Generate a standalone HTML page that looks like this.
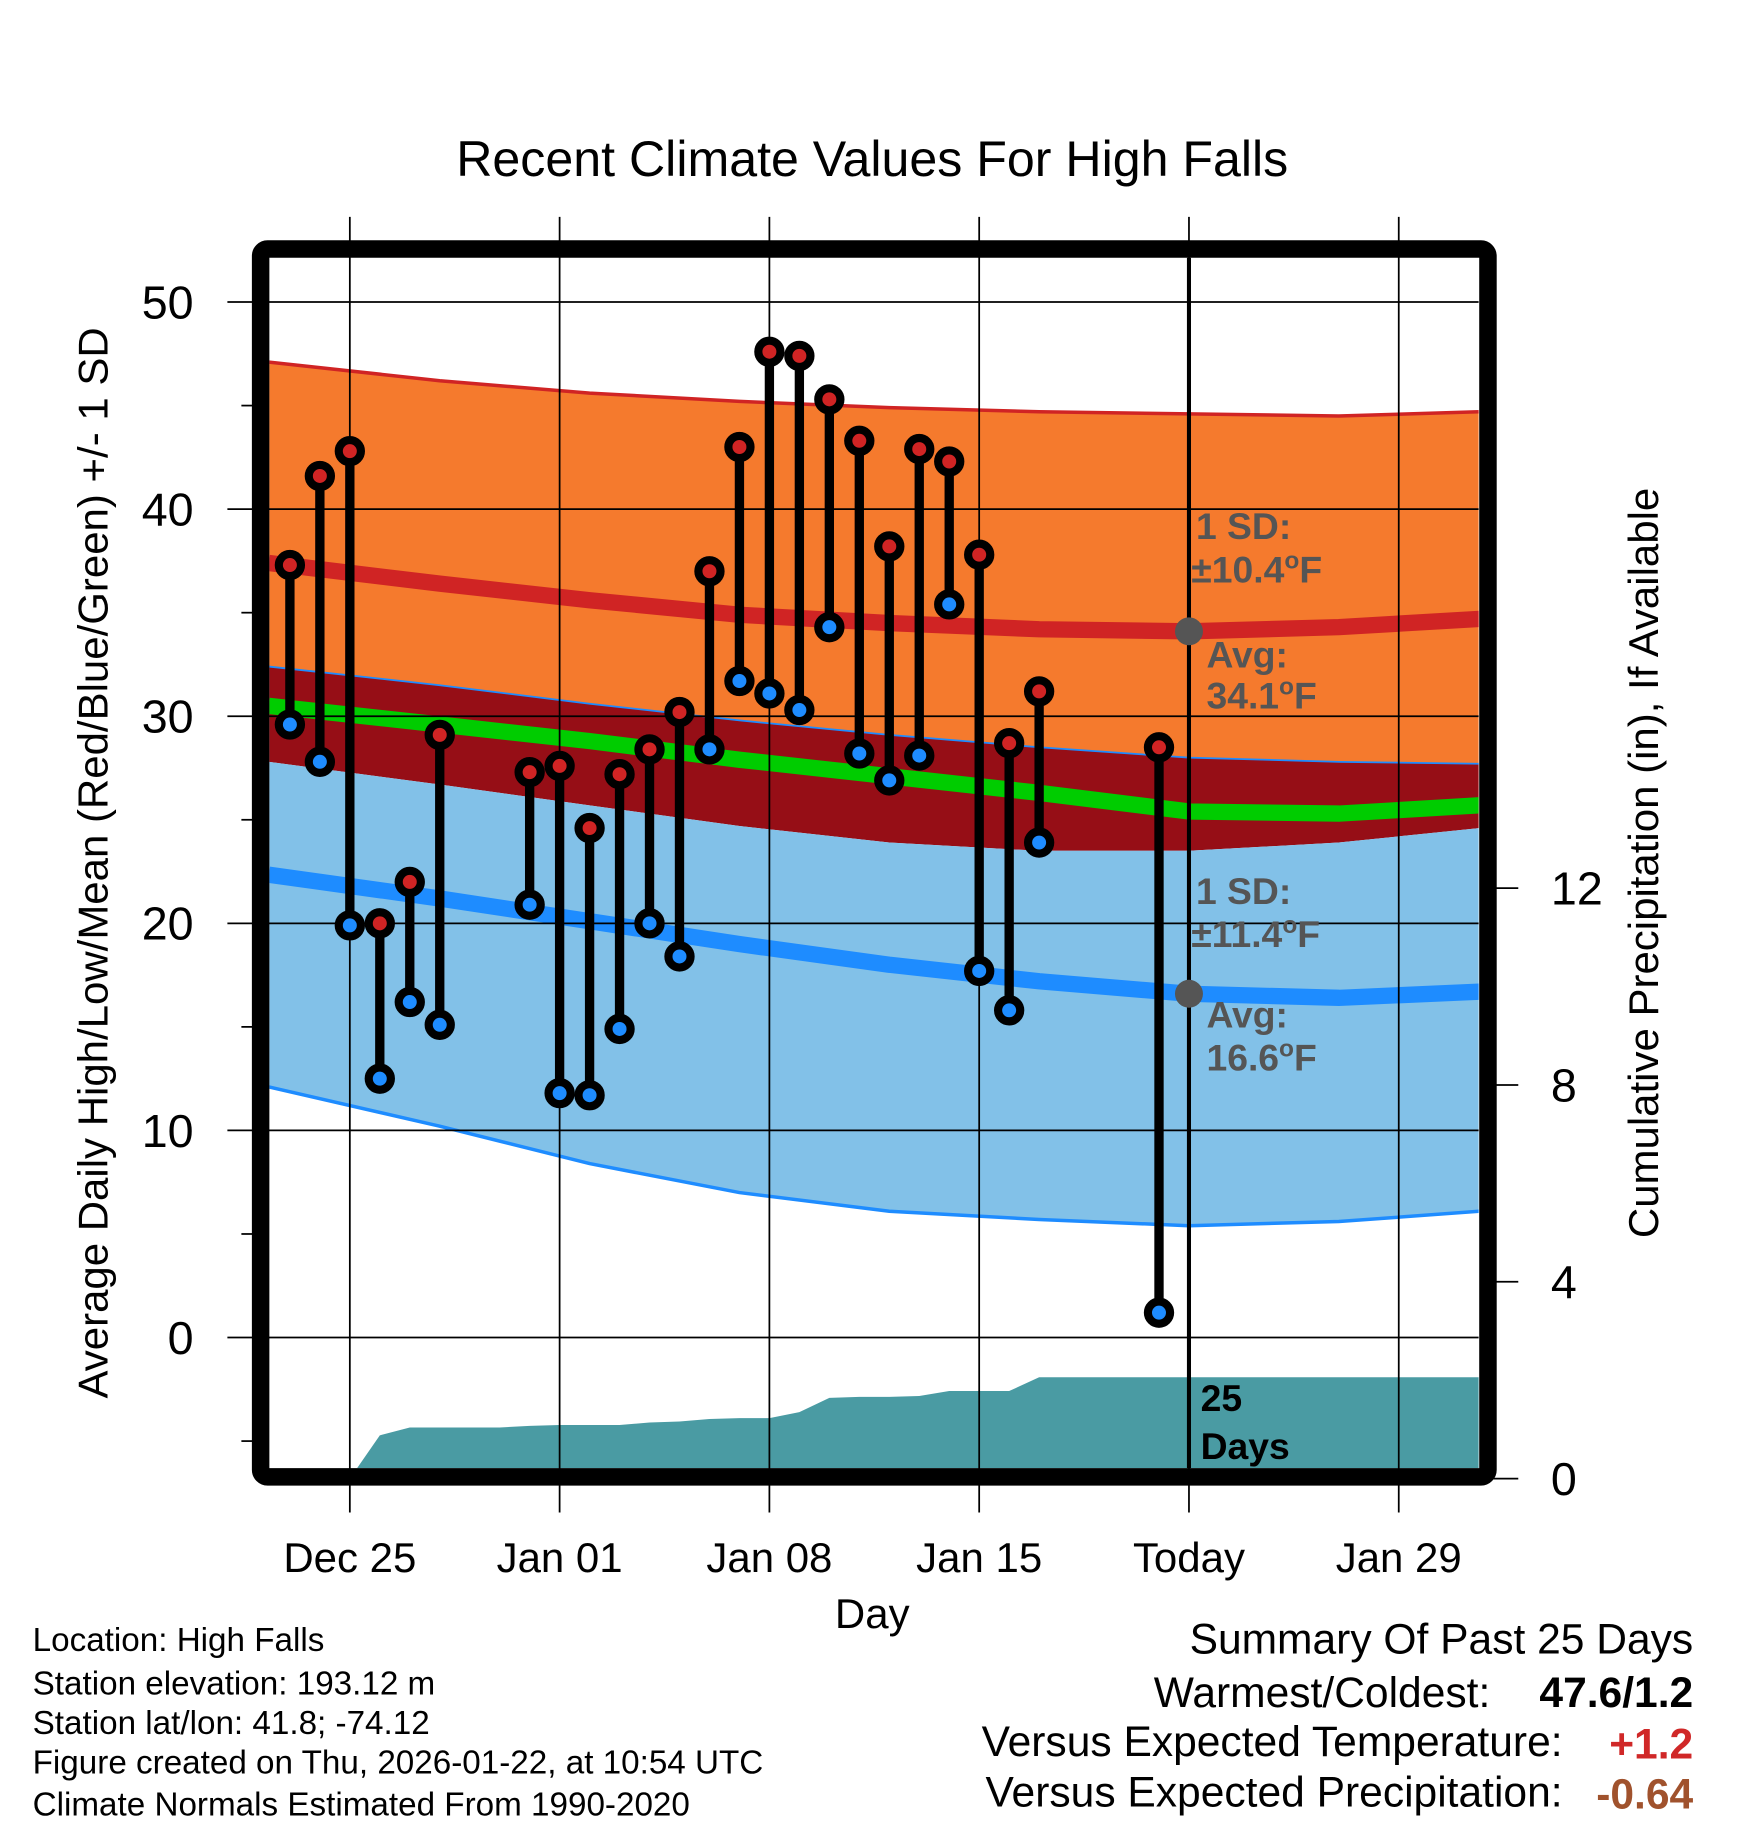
<!DOCTYPE html>
<html><head><meta charset="utf-8">
<style>
html,body{margin:0;padding:0;background:#fff;}
svg{display:block;font-family:"Liberation Sans",Arial,sans-serif;}
</style></head>
<body>
<svg id="chart" width="1748" height="1828" viewBox="0 0 1499 1567.6" xmlns="http://www.w3.org/2000/svg">
<rect x="0" y="0" width="1499" height="1568" fill="#fff"/>
<text x="748" y="151" font-size="43" text-anchor="middle">Recent Climate Values For High Falls</text>
<defs><clipPath id="plotclip"><rect x="231" y="221" width="1037" height="1038"/></clipPath></defs>
<g id="bands" clip-path="url(#plotclip)"></g>
<g id="grid"></g>
<g id="marks" clip-path="url(#plotclip)"></g>
<g id="axes"></g>
<rect x="223.5" y="213.5" width="1052.5" height="1053" rx="6" fill="none" stroke="#000" stroke-width="15"/>
<text transform="translate(92,740) rotate(-90)" font-size="36" text-anchor="middle">Average Daily High/Low/Mean (Red/Blue/Green) +/- 1 SD</text>
<text transform="translate(1422,740) rotate(-90)" font-size="36" text-anchor="middle">Cumulative Precipitation (in), If Available</text>
<text x="748" y="1396" font-size="36" text-anchor="middle">Day</text>
<g font-size="28.5">
<text x="28" y="1416">Location: High Falls</text>
<text x="28" y="1453">Station elevation: 193.12 m</text>
<text x="28" y="1487">Station lat/lon: 41.8; -74.12</text>
<text x="28" y="1521">Figure created on Thu, 2026-01-22, at 10:54 UTC</text>
<text x="28" y="1557">Climate Normals Estimated From 1990-2020</text>
</g>
<g font-size="36.5">
<text x="1452" y="1418" text-anchor="end">Summary Of Past 25 Days</text>
<text x="1278" y="1464" text-anchor="end">Warmest/Coldest:</text>
<text x="1452" y="1464" text-anchor="end" font-weight="bold">47.6/1.2</text>
<text x="1340" y="1506" text-anchor="end">Versus Expected Temperature:</text>
<text x="1452" y="1508" text-anchor="end" font-weight="bold" fill="#d02828">+1.2</text>
<text x="1340" y="1549" text-anchor="end">Versus Expected Precipitation:</text>
<text x="1452" y="1551" text-anchor="end" font-weight="bold" fill="#a0522d">-0.64</text>
</g>
<script>
// ---- data ----
const days = ["Dec 23","Dec 24","Dec 25","Dec 26","Dec 27","Dec 28","Dec 29","Dec 30","Dec 31","Jan 01","Jan 02","Jan 03","Jan 04","Jan 05","Jan 06","Jan 07","Jan 08","Jan 09","Jan 10","Jan 11","Jan 12","Jan 13","Jan 14","Jan 15","Jan 16","Jan 17","Jan 18","Jan 19","Jan 20","Jan 21"];
const highs = [37.3,41.6,42.8,20.0,22.0,29.1,null,null,27.3,27.6,24.6,27.2,28.4,30.2,37.0,43.0,47.6,47.4,45.3,43.3,38.2,42.9,42.3,37.8,28.7,31.2,null,null,null,28.5];
const lows  = [29.6,27.8,19.9,12.5,16.2,15.1,null,null,20.9,11.8,11.7,14.9,20.0,18.4,28.4,31.7,31.1,30.3,34.3,28.2,26.9,28.1,35.4,17.7,15.8,23.9,null,null,null,1.2];
const precip = [null,null,0,0.88,1.04,1.04,1.04,1.04,1.07,1.09,1.09,1.09,1.14,1.16,1.21,1.23,1.23,1.35,1.64,1.66,1.66,1.68,1.78,1.78,1.78,2.06];
const normDays = [-0.7,5,10,15,20,25,30,35,39.7];
const highUpper = [47.1,46.2,45.6,45.2,44.9,44.7,44.6,44.5,44.7];
const highAvg   = [37.4,36.4,35.6,34.9,34.5,34.2,34.1,34.3,34.7];
const highLower = [32.4,31.5,30.6,29.8,29.1,28.5,28.0,27.8,27.7];
const meanAvg   = [30.5,29.6,28.8,27.9,27.1,26.3,25.4,25.3,25.7];
const lowUpper  = [27.8,26.7,25.7,24.7,23.9,23.5,23.5,23.9,24.6];
const lowAvg    = [22.35,21.2,20.1,19.0,18.0,17.2,16.6,16.4,16.7];
const lowLower  = [12.1,10.2,8.4,7.0,6.1,5.7,5.4,5.6,6.1];
const yTicks = [0,10,20,30,40,50];
const yMinor = [-5,5,15,25,35,45];
const xTickDays = [2,9,16,23,30,37];
const xTickLabels = ["Dec 25","Jan 01","Jan 08","Jan 15","Today","Jan 29"];
const pTicks = [0,4,8,12];
const todayDay = 30;
const annHigh = {avg:34.1, sd:10.4};
const annLow = {avg:16.6, sd:11.4};

// ---- scales ----
const X = d => 248.6 + 25.7*d;
const Y = v => 1147 - 17.76*v;
const P = v => 1268 - 42.2*v;
const NS = "http://www.w3.org/2000/svg";
function mk(tag, attrs, parent){const e=document.createElementNS(NS,tag);for(const k in attrs)e.setAttribute(k,attrs[k]);parent.appendChild(e);return e;}
function pts(arr){return normDays.map((d,i)=>X(d).toFixed(1)+","+Y(arr[i]).toFixed(1));}
function bandPoly(top,bot){return pts(top).concat(pts(bot).reverse()).join(" ");}

const bands=document.getElementById('bands');
let e;
e=mk('polygon',{points:bandPoly(highUpper,highLower),fill:'#f57a2d'},bands);


e=mk('polygon',{points:bandPoly(highLower,lowUpper),fill:'#960e16'},bands);


e=mk('polygon',{points:bandPoly(lowUpper,lowLower),fill:'#82c1e8'},bands);


e=mk('polyline',{points:pts(highUpper).join(" "),fill:'none',stroke:'#d02424','stroke-width':3},bands);


e=mk('polyline',{points:pts(highLower).join(" "),fill:'none',stroke:'#1e8cff','stroke-width':1.5},bands);


e=mk('polyline',{points:pts(lowLower).join(" "),fill:'none',stroke:'#1e8cff','stroke-width':3},bands);


e=mk('polyline',{points:pts(highAvg).join(" "),fill:'none',stroke:'#d02424','stroke-width':14},bands);


e=mk('polyline',{points:pts(meanAvg).join(" "),fill:'none',stroke:'#00cc00','stroke-width':14},bands);


e=mk('polyline',{points:pts(lowAvg).join(" "),fill:'none',stroke:'#1e8cff','stroke-width':14},bands);



// precip area
let pp=[];let first=null,last=null;
precip.forEach((v,i)=>{if(v!==null){if(first===null)first=i;last=i;pp.push(X(i).toFixed(1)+","+P(v).toFixed(1));}});
pp.push("1270,"+P(precip[last]).toFixed(1));
pp.push("1270,1270");pp.push(X(first).toFixed(1)+",1270");
e=mk('polygon',{points:pp.join(" "),fill:'#4a9ba3'},bands);



// grid
const grid=document.getElementById('grid');
yTicks.forEach(v=>{
  e=mk('line',{x1:195,x2:1268,y1:Y(v),y2:Y(v),stroke:'#000','stroke-width':1.5},grid);
  
  
  e=mk('text',{x:166,y:Y(v)+14,'font-size':40,'text-anchor':'end'},grid);
  e.textContent=v;
  
  
});
yMinor.forEach(v=>{
  e=mk('line',{x1:207,x2:220,y1:Y(v),y2:Y(v),stroke:'#000','stroke-width':1.5},grid);
  
  
});
xTickDays.forEach((d,i)=>{
  e=mk('line',{x1:X(d),x2:X(d),y1:186,y2:1297,stroke:'#000','stroke-width':1.5},grid);
  
  
  e=mk('text',{x:X(d),y:1348,'font-size':36,'text-anchor':'middle'},grid);
  e.textContent=xTickLabels[i];
  
  
});
pTicks.forEach(v=>{
  e=mk('line',{x1:1280,x2:1302,y1:P(v),y2:P(v),stroke:'#000','stroke-width':1.5},grid);
  
  
  e=mk('text',{x:1330,y:P(v)+14,'font-size':40,'text-anchor':'start'},grid);
  e.textContent=v;
  
  
});

// marks
const marks=document.getElementById('marks');
e=mk('line',{x1:X(todayDay),x2:X(todayDay),y1:215,y2:1262,stroke:'#000','stroke-width':3.5},marks);


highs.forEach((h,i)=>{
  if(h===null)return;
  const l=lows[i];
  e=mk('line',{x1:X(i),x2:X(i),y1:Y(h),y2:Y(l),stroke:'#000','stroke-width':8},marks);
  
  
});
highs.forEach((h,i)=>{
  if(h===null)return;
  e=mk('circle',{cx:X(i),cy:Y(h),r:9.5,fill:'#d02424',stroke:'#000','stroke-width':7},marks);
  
  
  e=mk('circle',{cx:X(i),cy:Y(lows[i]),r:9.5,fill:'#1e8cff',stroke:'#000','stroke-width':7},marks);
  
  
});
e=mk('circle',{cx:X(todayDay),cy:Y(annHigh.avg),r:12,fill:'#555'},marks);


e=mk('circle',{cx:X(todayDay),cy:Y(annLow.avg),r:12,fill:'#555'},marks);



function ann(x,y,txt,name,col,sup){
  const t=mk('text',{x:x,y:y,'font-size':32,'font-weight':'bold',fill:col},marks);
  if(sup){t.appendChild(document.createTextNode(txt));const s=mk('tspan',{dy:-12,'font-size':21},t);s.textContent='o';const f=mk('tspan',{dy:12},t);f.textContent='F';}
  else t.textContent=txt;
  
  
}
const tx=X(todayDay);
ann(tx+6,Y(annHigh.avg)-79,'1 SD:','high-sd-label','#555',false);
ann(tx+2,Y(annHigh.avg)-42,'\u00b1'+annHigh.sd.toFixed(1),'high-sd-value','#555',true);
ann(tx+15,Y(annHigh.avg)+31,'Avg:','high-avg-label','#555',false);
ann(tx+15,Y(annHigh.avg)+66,annHigh.avg.toFixed(1),'high-avg-value','#555',true);
ann(tx+6,Y(annLow.avg)-77,'1 SD:','low-sd-label','#555',false);
ann(tx+2,Y(annLow.avg)-40,'\u00b1'+annLow.sd.toFixed(1),'low-sd-value','#555',true);
ann(tx+15,Y(annLow.avg)+29,'Avg:','low-avg-label','#555',false);
ann(tx+15,Y(annLow.avg)+66,annLow.avg.toFixed(1),'low-avg-value','#555',true);
ann(tx+10,1210,'25','days-count','#000',false);
ann(tx+10,1251,'Days','days-label','#000',false);
</script>
</svg>
</body></html>
